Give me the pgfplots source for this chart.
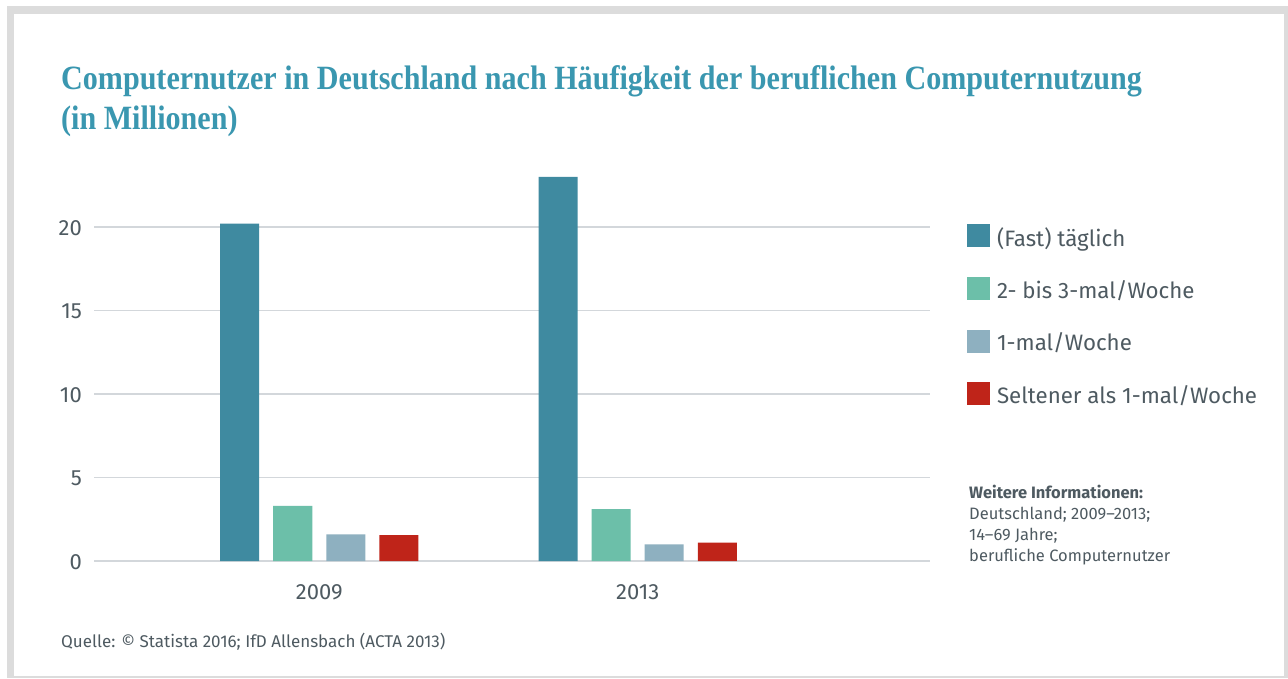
\documentclass[border=0pt]{standalone}
\usepackage{pgfplots}
\pgfplotsset{compat=1.18}
\usepackage{fontspec}
\setmainfont{Fira Sans}
\newfontfamily\titlefont[FakeStretch=0.885]{Liberation Serif}
\definecolor{framegrey}{HTML}{DCDCDC}
\definecolor{titleteal}{HTML}{3A97B0}
\definecolor{txtgrey}{HTML}{4E5A61}
\definecolor{gridgrey}{HTML}{D3D7DB}
\definecolor{cA}{HTML}{3F8AA0}
\definecolor{cB}{HTML}{6CBFA9}
\definecolor{cC}{HTML}{8EB0C0}
\definecolor{cD}{HTML}{BF2419}
\begin{document}
\begin{tikzpicture}[x=1pt,y=1pt]
\path[use as bounding box] (0,0) rectangle (1288,678);
\fill[framegrey] (7,0) rectangle (1288,672);
\fill[white] (14,2) rectangle (1284,664);
\node[anchor=base west, inner sep=0pt, text=titleteal, font=\titlefont\bfseries\fontsize{34}{40}\selectfont] at (61,588) {Computernutzer in Deutschland nach Häufigkeit der beruflichen Computernutzung};
\node[anchor=base west, inner sep=0pt, text=titleteal, font=\titlefont\bfseries\fontsize{34}{40}\selectfont] at (61,548) {(in Millionen)};
\begin{axis}[
  at={(94pt,117pt)}, anchor=south west, scale only axis,
  width=836pt, height=400.8pt,
  xmin=-0.7075, xmax=1.918, ymin=0, ymax=24,
  axis line style={draw=none},
  major tick length=0pt,
  ytick={0,5,10,15,20},
  xtick={0,1}, xticklabels={2009,2013},
  ymajorgrids, grid style={gridgrey, line width=1.3pt},
  /pgf/number format/assume math mode=true,
  tick label style={text=txtgrey, font=\fontsize{22}{26}\selectfont, inner sep=0pt},
  yticklabel style={anchor=east, xshift=-12pt, yshift=-1pt},
  xticklabel style={anchor=base, yshift=-38pt},
  ybar, bar width=0.1226,
  clip=false,
  legend cell align=left,
  legend style={draw=none, fill=none, inner sep=0pt, outer sep=0pt,
    anchor=north west, at={(axis description cs:1.0443,0.84)},
    nodes={inner sep=0pt, text=txtgrey, font=\fontsize{22.3}{26}\selectfont},
    /tikz/every even column/.append style={yshift=7pt},
    row sep=29.6pt, column sep=7pt},
  legend image code/.code={\fill[#1] (0pt,-3pt) rectangle (23pt,20pt);},
]
\addplot[fill=cA, draw=none, bar shift=-0.25] coordinates {(0,20.2) (1,23.0)};
\addplot[fill=cB, draw=none, bar shift=-0.0833] coordinates {(0,3.3) (1,3.1)};
\addplot[fill=cC, draw=none, bar shift=0.0833] coordinates {(0,1.6) (1,1.0)};
\addplot[fill=cD, draw=none, bar shift=0.25] coordinates {(0,1.55) (1,1.1)};
\legend{(Fast) täglich, 2- bis 3-mal/Woche, 1-mal/Woche, Seltener als 1-mal/Woche}
\end{axis}
\node[anchor=base west, inner sep=0pt, text=txtgrey, align=left, font=\fontsize{16.5}{21}\selectfont] at (969,117) {\textbf{Weitere Informationen:}\\Deutschland; 2009–2013;\\14–69 Jahre;\\berufliche Computernutzer};
\node[anchor=base west, inner sep=0pt, text=txtgrey, font=\fontsize{17}{21}\selectfont] at (61,31) {Quelle: © Statista 2016; IfD Allensbach (ACTA 2013)};
\end{tikzpicture}
\end{document}
